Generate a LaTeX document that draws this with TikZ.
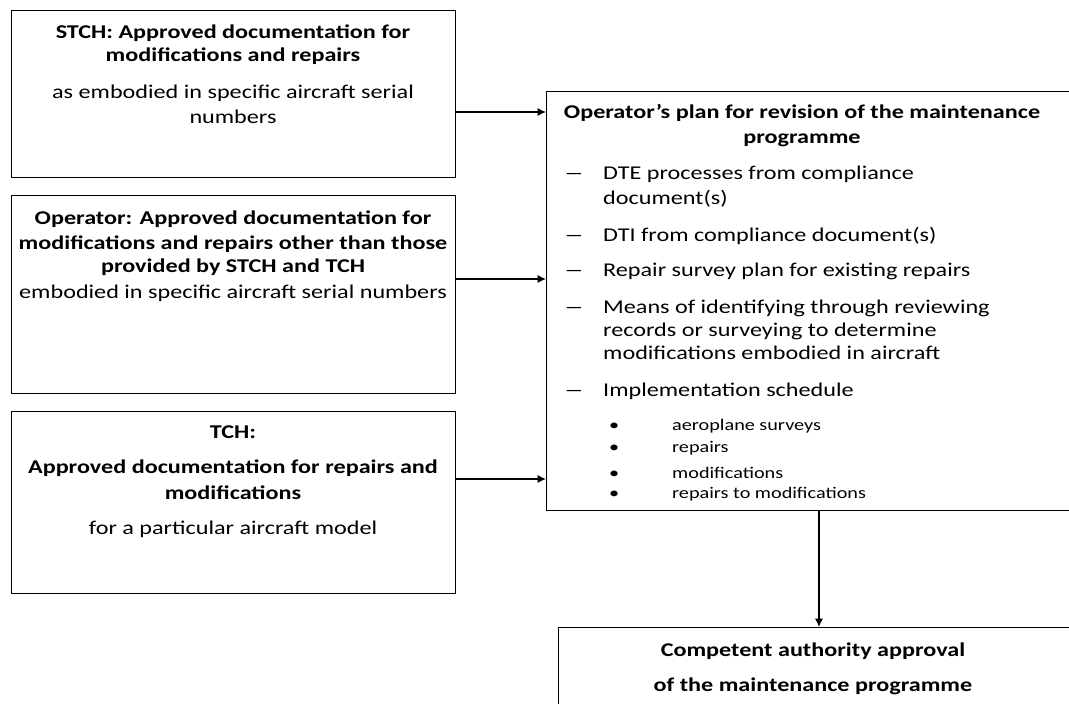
\documentclass[tikz,border=0pt]{standalone}
\usepackage{fontspec}
\setmainfont{Carlito}[FakeStretch=1.24]
\newfontfamily\plainfont{Carlito}
\usetikzlibrary{arrows.meta}
\begin{document}
\begin{tikzpicture}[x=1pt,y=-1pt,
  box/.style={draw,line width=1.1pt,inner sep=0pt,anchor=north west},
  hd/.style={anchor=base,inner sep=0pt,font=\fontsize{19.5}{23}\selectfont\bfseries},
  tx/.style={anchor=base,inner sep=0pt,font=\fontsize{19.5}{23}\selectfont},
  li/.style={anchor=base west,inner sep=0pt,font=\fontsize{19.5}{23}\selectfont},
  dsh/.style={anchor=base west,inner sep=0pt,font=\plainfont\fontsize{19.5}{23}\selectfont},
  sm/.style={anchor=base west,inner sep=0pt,font=\fontsize{16.3}{18}\selectfont},
  arr/.style={line width=2.5pt,-{Latex[length=8.5pt,width=8.5pt]}}]
\useasboundingbox (0,0) rectangle (1069,704);
\fill[white] (0,0) rectangle (1069,704);
% boxes
\node[box,minimum width=444pt,minimum height=167pt] (b1) at (11,10) {};
\node[box,minimum width=444pt,minimum height=198pt] (b2) at (11,195) {};
\node[box,minimum width=444pt,minimum height=182pt] (b3) at (11,411) {};
\node[box,minimum width=530pt,minimum height=419pt] (plan) at (546,91) {};
\node[box,minimum width=520pt,minimum height=90pt] (appr) at (558,627) {};
% box 1 text
\node[hd] (t11) at (233,38.5) {STCH: Approved documentation for};
\node[hd] (t12) at (233,61.5) {modifications and repairs};
\node[tx] (t13) at (233,98.5) {as embodied in specific aircraft serial};
\node[tx] (t14) at (233,123.5) {numbers};
% box 2 text
\node[hd] (t21) at (233,224.5) {Operator: Approved documentation for};
\node[hd] (t22) at (233,249.5) {modifications and repairs other than those};
\node[hd] (t23) at (233,272.5) {provided by STCH and TCH};
\node[tx] (t24) at (233,298.5) {embodied in specific aircraft serial numbers};
% box 3 text
\node[hd] (t31) at (233,438.5) {TCH:};
\node[hd] (t32) at (233,473.5) {Approved documentation for repairs and};
\node[hd] (t33) at (233,499.5) {modifications};
\node[tx] (t34) at (233,534.5) {for a particular aircraft model};
% plan text
\node[hd] (p1) at (802,118.5) {Operator’s plan for revision of the maintenance};
\node[hd] (p2) at (802,143.5) {programme};
\node[dsh] (d1) at (565,179.5) {—};
\node[li] (l1) at (603,179.5) {DTE processes from compliance};
\node[li] (l1b) at (603,204.5) {document(s)};
\node[dsh] (d2) at (565,241.5) {—};
\node[li] (l2) at (603,241.5) {DTI from compliance document(s)};
\node[dsh] (d3) at (565,276.5) {—};
\node[li] (l3) at (603,276.5) {Repair survey plan for existing repairs};
\node[dsh] (d4) at (565,313.5) {—};
\node[li] (l4) at (603,313.5) {Means of identifying through reviewing};
\node[li] (l4b) at (603,336.5) {records or surveying to determine};
\node[li] (l4c) at (603,359.5) {modifications embodied in aircraft};
\node[dsh] (d5) at (565,396.5) {—};
\node[li] (l5) at (603,396.5) {Implementation schedule};
\node[sm] (s1d) at (609,430) {•};
\node[sm] (s1) at (672,430) {aeroplane surveys};
\node[sm] (s2d) at (609,452) {•};
\node[sm] (s2) at (672,452) {repairs};
\node[sm] (s3d) at (609,478) {•};
\node[sm] (s3) at (672,478) {modifications};
\node[sm] (s4d) at (609,498) {•};
\node[sm] (s4) at (672,498) {repairs to modifications};
% approval text
\node[hd] (a1) at (813,656.5) {Competent authority approval};
\node[hd] (a2) at (813,691.5) {of the maintenance programme};
% connectors
\coordinate (y1) at (0,112);
\coordinate (y2) at (0,279);
\coordinate (y3) at (0,479);
\coordinate (xv) at (819,0);
\draw[arr] (b1.east |- y1) -- (plan.west |- y1);
\draw[arr] (b2.east |- y2) -- (plan.west |- y2);
\draw[arr] (b3.east |- y3) -- (plan.west |- y3);
\draw[arr] (plan.south -| xv) -- (appr.north -| xv);
\end{tikzpicture}
\end{document}
